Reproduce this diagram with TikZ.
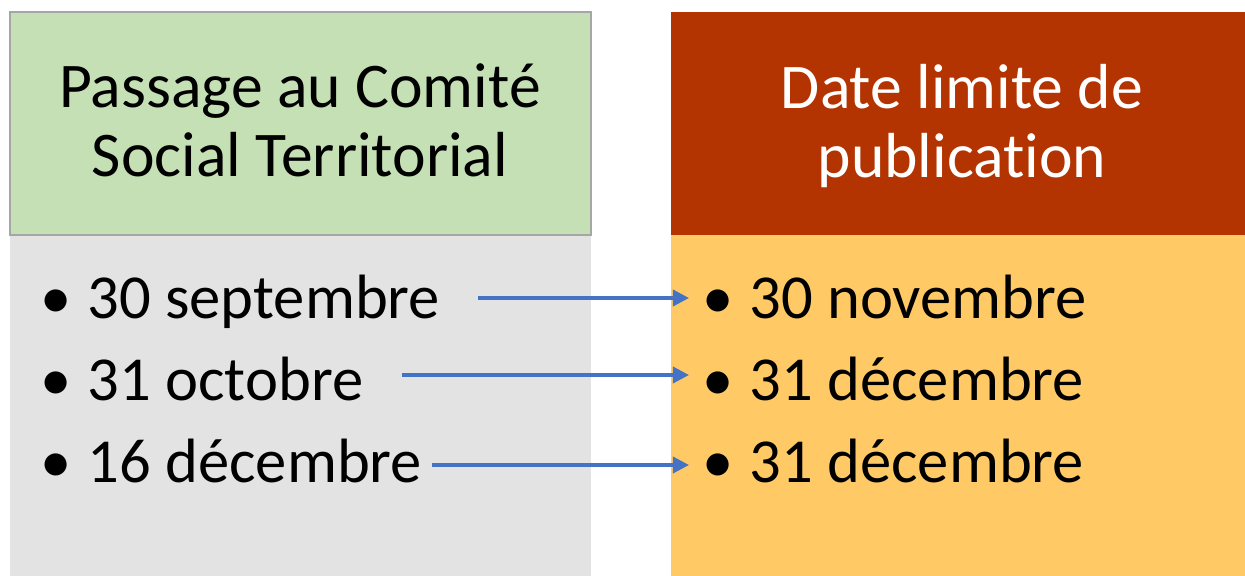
\documentclass[tikz,border=0pt]{standalone}
\usepackage{fontspec}
\setmainfont{Carlito}[Ligatures=NoCommon]
\usetikzlibrary{arrows.meta}
\definecolor{headgreen}{HTML}{C5E0B4}
\definecolor{framegray}{HTML}{A6A6A6}
\definecolor{bodygray}{HTML}{E3E3E3}
\definecolor{headred}{HTML}{B33400}
\definecolor{bodyyellow}{HTML}{FFC966}
\definecolor{linkblue}{HTML}{4472C4}
\newcommand{\itm}[1]{\makebox[0.47cm][l]{\textbullet}#1}

\begin{document}
\begin{tikzpicture}[x=0.01cm,y=-0.01cm]
	\tikzstyle{every node}+=[inner sep=0pt]
	\tikzstyle{head}=[align=center, font=\fontsize{18.1}{19.6}\selectfont]
	\tikzstyle{item}=[anchor=base west, font=\fontsize{17.8}{20}\selectfont]
	\tikzstyle{link}=[draw=linkblue, line width=0.035cm, -{Triangle[length=0.16cm,width=0.16cm]}]
	\useasboundingbox (0,0) rectangle (1245,576);
	\fill [bodygray] (10,235) rectangle (591,576);
	\filldraw [fill=headgreen, draw=framegray, line width=0.02cm] (10,12) rectangle (591,235);
	\fill [headred] (671,12) rectangle (1245,235);
	\fill [bodyyellow] (671,235) rectangle (1245,576);
	\node [head] (cst) at (300,120) {Passage au Comité\\Social Territorial};
	\node [head, text=white] (limite) at (962,126) {Date limite de\\publication};
	\node [item] (l1) at (40,318) {\itm{30 septembre}};
	\node [item] (l2) at (40,400) {\itm{31 octobre}};
	\node [item] (l3) at (40,482) {\itm{16 décembre}};
	\node [item] (r1) at (702,318) {\itm{30 novembre}};
	\node [item] (r2) at (702,400) {\itm{31 décembre}};
	\node [item] (r3) at (702,482) {\itm{31 décembre}};
	\coordinate (s1) at (478,298);
	\coordinate (s2) at (402,375);
	\coordinate (s3) at (432,465);
	\draw [link] (s1) -- ([xshift=-0.13cm]s1 -| r1.west);
	\draw [link] (s2) -- ([xshift=-0.13cm]s2 -| r2.west);
	\draw [link] (s3) -- ([xshift=-0.13cm]s3 -| r3.west);
\end{tikzpicture}
\end{document}
